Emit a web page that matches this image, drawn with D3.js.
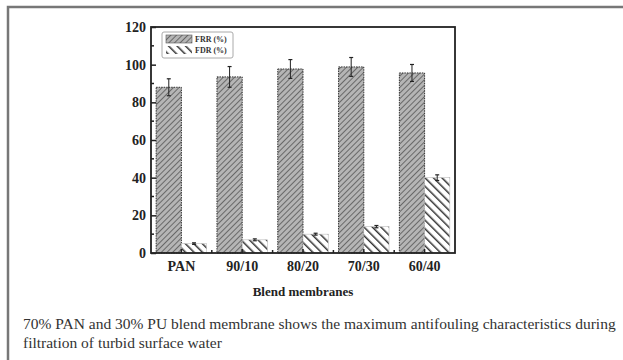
<!DOCTYPE html>
<html>
<head>
<meta charset="utf-8">
<script src="https://d3js.org/d3.v7.min.js"></script>
<style>
  body { margin: 0; background: #fff; }
  svg text { font-family: "Liberation Serif", "Times New Roman", serif; }
</style>
</head>
<body>
<div id="chart"></div>
<script>
// data
var categories = ["PAN", "90/10", "80/20", "70/30", "60/40"];
var series = ["FRR (%)", "FDR (%)"];
var frr = [88, 93.5, 97.7, 98.8, 95.6];
var frrErr = [4.5, 5.5, 5, 5, 4.5];
var fdr = [5, 7, 10, 14, 40];
var fdrErr = [0.4, 0.5, 0.5, 0.6, 1.5];
var yTicks = [0, 20, 40, 60, 80, 100, 120];
var caption = ["70% PAN and 30% PU blend membrane shows the maximum antifouling characteristics during",
               "filtration of turbid surface water"];

var W = 623, H = 360;
var pl = 151, pr = 455, pt = 27, pb = 253;
var serif = "'Liberation Serif', 'Times New Roman', serif";

var svg = d3.select("#chart").append("svg")
    .attr("width", W).attr("height", H);

// hatch patterns
var defs = svg.append("defs");
var p1 = defs.append("pattern").attr("id", "hatchFRR")
    .attr("patternUnits", "userSpaceOnUse").attr("width", 4).attr("height", 4)
    .attr("patternTransform", "rotate(45)");
p1.append("rect").attr("width", 4).attr("height", 4).attr("fill", "#b5b5b5");
p1.append("line").attr("x1", 0).attr("y1", 0).attr("x2", 0).attr("y2", 4)
    .attr("stroke", "#555").attr("stroke-width", 1.6);

var p2 = defs.append("pattern").attr("id", "hatchFDR")
    .attr("patternUnits", "userSpaceOnUse").attr("width", 6).attr("height", 6)
    .attr("patternTransform", "rotate(-45)");
p2.append("rect").attr("width", 6).attr("height", 6).attr("fill", "#fff");
p2.append("line").attr("x1", 0).attr("y1", 0).attr("x2", 0).attr("y2", 6)
    .attr("stroke", "#333").attr("stroke-width", 3);

// outer grey frame of the picture
svg.append("path")
    .attr("d", "M8,360 L8,7 L623,7")
    .attr("fill", "none").attr("stroke", "#777").attr("stroke-width", 2.5);

var x = d3.scaleBand().domain(categories).range([pl, pr]).padding(0);
var y = d3.scaleLinear().domain([0, 120]).range([pb, pt]);
var barW = x.bandwidth() * 0.415;

var g = svg.append("g");

// FRR bars
g.selectAll(".frr").data(categories).enter().append("rect")
    .attr("x", function(d) { return x(d) + x.bandwidth() / 2 - barW; })
    .attr("y", function(d, i) { return y(frr[i]); })
    .attr("width", barW)
    .attr("height", function(d, i) { return y(0) - y(frr[i]); })
    .attr("fill", "url(#hatchFRR)")
    .attr("stroke", "#333").attr("stroke-width", 1).attr("stroke-dasharray", "1.5,1");

// FDR bars
g.selectAll(".fdr").data(categories).enter().append("rect")
    .attr("x", function(d) { return x(d) + x.bandwidth() / 2; })
    .attr("y", function(d, i) { return y(fdr[i]); })
    .attr("width", barW)
    .attr("height", function(d, i) { return y(0) - y(fdr[i]); })
    .attr("fill", "url(#hatchFDR)")
    .attr("stroke", "#bbb").attr("stroke-width", 0.6);

// error bars
function errBars(vals, errs, off) {
  categories.forEach(function(c, i) {
    var cx = x(c) + x.bandwidth() / 2 + off;
    var y1 = y(vals[i] + errs[i]), y2 = y(vals[i] - errs[i]);
    g.append("line").attr("x1", cx).attr("x2", cx).attr("y1", y1).attr("y2", y2)
        .attr("stroke", "#222").attr("stroke-width", 1);
    [y1, y2].forEach(function(yy) {
      g.append("line").attr("x1", cx - 2).attr("x2", cx + 2).attr("y1", yy).attr("y2", yy)
          .attr("stroke", "#222").attr("stroke-width", 1.2);
    });
  });
}
errBars(frr, frrErr, -barW / 2);
errBars(fdr, fdrErr, barW / 2);

// plot frame
svg.append("rect").attr("x", pl).attr("y", pt)
    .attr("width", pr - pl).attr("height", pb - pt)
    .attr("fill", "none").attr("stroke", "#222").attr("stroke-width", 1.8);

// y axis: ticks inward
var yAxis = d3.axisLeft(y).tickValues(yTicks).tickSize(-5).tickPadding(5).tickFormat(d3.format("d"));
var ya = svg.append("g").attr("transform", "translate(" + pl + ",0)").call(yAxis);
ya.attr("font-family", serif);
ya.select(".domain").remove();
ya.selectAll("line").attr("stroke", "#222").attr("stroke-width", 1.5);
ya.selectAll("text").attr("font-size", 14).attr("font-weight", "bold").attr("fill", "#222");
var minor = d3.range(10, 120, 20);
svg.selectAll(".ymin").data(minor).enter().append("line")
    .attr("x1", pl).attr("x2", pl + 3)
    .attr("y1", function(d) { return y(d); }).attr("y2", function(d) { return y(d); })
    .attr("stroke", "#222").attr("stroke-width", 1.5);

// x axis
var xAxis = d3.axisBottom(x).tickSize(-4).tickPadding(8);
var xa = svg.append("g").attr("transform", "translate(0," + pb + ")").call(xAxis);
xa.attr("font-family", serif);
xa.select(".domain").remove();
xa.selectAll("line").attr("stroke", "#222").attr("stroke-width", 1.5);
xa.selectAll("text").attr("font-size", 14).attr("font-weight", "bold").attr("fill", "#222");
svg.selectAll(".xmin").data(categories.slice(1)).enter().append("line")
    .attr("x1", function(d) { return x(d); }).attr("x2", function(d) { return x(d); })
    .attr("y1", pb).attr("y2", pb - 3)
    .attr("stroke", "#222").attr("stroke-width", 1.5);

svg.append("text").attr("x", (pl + pr) / 2).attr("y", 296)
    .attr("text-anchor", "middle").attr("font-size", 13).attr("font-weight", "bold")
    .attr("font-family", serif).attr("fill", "#222").text("Blend membranes");

// legend
var lg = svg.append("g").attr("transform", "translate(162,32)");
lg.append("rect").attr("width", 71).attr("height", 26).attr("rx", 2)
    .attr("fill", "#fff").attr("stroke", "#aaa").attr("stroke-width", 1);
series.forEach(function(s, i) {
  lg.append("rect").attr("x", 4).attr("y", 3 + i * 11).attr("width", 26).attr("height", 8)
      .attr("fill", i === 0 ? "url(#hatchFRR)" : "url(#hatchFDR)")
      .attr("stroke", i === 0 ? "#555" : "none").attr("stroke-width", 0.6);
  lg.append("text").attr("x", 33).attr("y", 10 + i * 11)
      .attr("font-size", 8).attr("font-weight", "bold").attr("font-family", serif)
      .attr("fill", "#333").text(s);
});

// caption
svg.selectAll(".cap").data(caption).enter().append("text")
    .attr("x", 23).attr("y", function(d, i) { return 329 + i * 19; })
    .attr("font-size", 15.5).attr("font-family", serif)
    .attr("fill", "#333").text(function(d) { return d; });
</script>
</body>
</html>
